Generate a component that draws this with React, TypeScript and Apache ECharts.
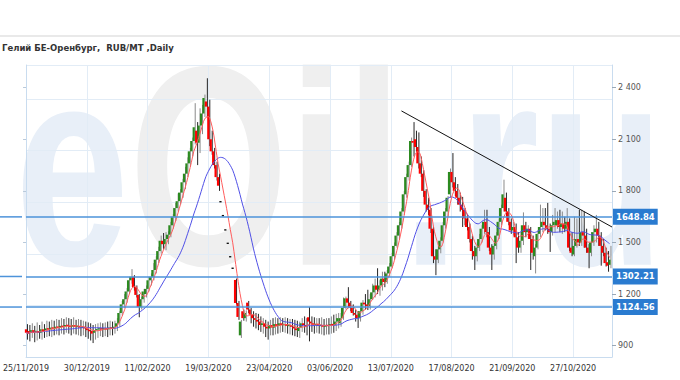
import React, { useEffect, useRef } from 'react';
import * as echarts from 'echarts';

const TITLE = 'Гелий БЕ-Оренбург,  RUB/MT ,Daily';
const TICK_LABELS = ['25/11/2019', '30/12/2019', '11/02/2020', '19/03/2020', '23/04/2020', '03/06/2020', '13/07/2020', '17/08/2020', '21/09/2020', '27/10/2020'];
const Y_TICKS = [900, 1200, 1500, 1800, 2100, 2400];
const LEVELS = [1648.84, 1302.21, 1124.56];
const TREND = [[154.4, 2265], [241, 1590]];

// [open, close, low, high] per trading day
const OHLC = [
  [995,975,935,1025],[985,970,925,1020],[975,990,945,1030],[990,975,920,1015],[980,985,930,1035],
  [985,975,940,1020],[975,995,935,1040],[995,985,945,1025],[990,1000,950,1045],[1000,995,955,1040],
  [995,1005,950,1050],[1005,1000,960,1045],[1000,1010,965,1055],[1010,1005,960,1050],[1005,1015,970,1060],
  [1015,1010,965,1055],[1010,1020,975,1065],[1020,1015,970,1060],[1015,1010,960,1055],[1010,1020,970,1065],
  [1020,1010,965,1050],[1010,1015,960,1055],[1015,1005,955,1050],[1005,1010,960,1045],[1010,1000,950,1040],
  [1000,990,940,1035],[990,985,930,1030],[985,970,915,1020],[975,990,935,1025],[990,995,945,1030],
  [995,1000,955,1035],[1000,995,950,1030],[995,1000,955,1035],[1000,995,950,1040],[995,1005,960,1045],
  [1005,1000,960,1040],[1000,1010,970,1045],[1010,1030,985,1060],
  [1030,1090,1010,1100],[1090,1140,1075,1160],[1140,1170,1120,1200],[1170,1215,1150,1235],[1215,1280,1200,1300],
  [1280,1300,1260,1345],[1300,1240,1220,1310],[1240,1195,1180,1250],[1195,1125,1065,1200],[1125,1170,1110,1185],
  [1170,1215,1150,1230],[1200,1230,1180,1250],
  [1230,1280,1215,1300],[1280,1300,1250,1320],[1300,1340,1280,1380],[1340,1400,1320,1420],[1400,1450,1380,1475],
  [1450,1510,1435,1540],[1510,1490,1460,1555],[1490,1520,1455,1560],[1520,1545,1490,1565],[1545,1600,1530,1620],
  [1600,1650,1580,1665],[1650,1700,1625,1730],[1700,1740,1680,1785],[1740,1790,1720,1810],[1790,1850,1760,1870],
  [1850,1900,1810,1940],[1900,1960,1880,1995],[1960,2030,1940,2050],[2030,2090,2000,2110],[2090,2170,2070,2310],
  [2150,2080,1950,2200],[2080,2180,2020,2280],[2180,2250,2130,2300],[2250,2340,2230,2360],[2320,2290,2230,2455],
  [2290,2100,2060,2330],[2100,2030,2010,2150],[2030,1950,1930,2050],[1950,1880,1860,1970],[1880,1830,1800,1900],
  [1737,1737,1737,1737],[1656,1656,1656,1656],[1573,1573,1573,1573],[1495,1495,1495,1495],[1417,1417,1417,1417],
  [1350,1350,1350,1350],[1282,1148,1140,1290],[1148,1067,1050,1160],[960,1040,945,1050],[1100,1060,1045,1110],
  [1060,1090,1040,1105],[1150,1110,1090,1160],[1110,1080,1030,1120],[1080,1060,1010,1100],[1060,1050,1000,1090],
  [1050,1040,990,1085],[1040,1020,980,1070],[1020,1030,970,1060],[1030,1010,950,1050],[1010,1000,935,1040],
  [1000,1020,960,1050],[1020,1005,960,1060],[1005,1025,965,1065],[1025,1015,970,1060],[1015,1030,975,1065],
  [1030,1020,980,1060],[1020,1025,975,1065],[1025,1015,970,1060],[1015,1020,965,1055],[1020,1010,960,1055],
  [1010,1000,955,1050],[1000,990,950,1045],[985,1005,945,1040],[1005,1030,980,1060],[1030,1020,975,1070],
  [1020,1010,960,1060],[1065,1040,925,1125],[1040,1030,980,1070],[1030,1020,970,1065],[1020,1025,975,1060],
  [1025,1015,970,1060],[1015,1020,965,1065],[1020,1010,960,1055],[1010,1020,965,1060],[1020,1015,965,1060],
  [1015,1025,970,1070],[1025,1020,975,1080],[1020,1040,985,1085],[1040,1060,1000,1090],[1030,1060,1010,1090],
  [1060,1120,1050,1180],[1120,1175,1110,1185],[1175,1150,1118,1240],[1150,1120,1100,1160],[1120,1090,1075,1140],
  [1090,1080,1040,1110],[1080,1060,1003,1100],[1060,1100,1040,1120],[1100,1150,1080,1165],[1150,1140,1110,1200],
  [1140,1130,1107,1225],[1130,1170,1110,1200],[1170,1210,1165,1260],[1210,1250,1180,1290],[1250,1225,1200,1350],
  [1225,1250,1190,1280],[1250,1290,1220,1330],[1290,1270,1240,1330],[1270,1320,1260,1340],[1320,1360,1300,1380],
  [1360,1420,1350,1440],[1420,1480,1400,1500],[1480,1540,1470,1560],[1540,1600,1520,1620],[1600,1680,1580,1700],
  [1680,1780,1660,1800],[1780,1880,1760,1900],[1880,1950,1860,1970],[1950,2090,1940,2110],[2090,2080,2000,2200],
  [2100,2055,2030,2150],[2055,1960,1930,2140],[1960,1900,1880,2000],[1900,1800,1765,1920],[1800,1720,1680,1810],
  [1720,1690,1660,1760],[1690,1580,1555,1700],[1580,1420,1380,1590],[1420,1400,1310,1460],[1400,1460,1380,1480],
  [1460,1510,1437,1530],[1510,1600,1500,1620],[1600,1680,1580,1700],[1680,1760,1650,1770],[1780,1910,1760,1930],
  [1910,1850,1820,2020],[1850,1800,1770,1880],[1800,1760,1720,1840],[1760,1720,1680,1790],[1720,1690,1590,1765],
  [1690,1640,1600,1700],[1640,1590,1570,1660],[1590,1520,1500,1610],[1520,1450,1400,1540],[1450,1420,1340,1480],
  [1420,1470,1390,1500],[1470,1520,1450,1550],[1520,1580,1500,1600],[1580,1620,1550,1690],[1620,1560,1530,1690],
  [1560,1470,1450,1590],[1470,1430,1340,1490],[1430,1480,1400,1500],[1480,1540,1460,1560],[1540,1620,1520,1640],
  [1620,1700,1600,1720],[1700,1780,1680,1865],[1760,1680,1650,1790],[1680,1620,1600,1700],[1620,1570,1550,1640],
  [1570,1590,1540,1620],[1590,1530,1380,1610],[1530,1470,1440,1560],[1470,1510,1440,1560],[1510,1600,1485,1675],
  [1600,1560,1530,1620],[1560,1580,1520,1600],[1580,1520,1340,1590],[1520,1440,1400,1540],[1420,1470,1320,1490],
  [1470,1550,1460,1570],[1550,1590,1530,1720],[1590,1620,1560,1700],[1620,1600,1570,1700],[1600,1580,1550,1730],
  [1580,1560,1445,1610],[1560,1600,1540,1660],[1600,1620,1560,1700],[1600,1630,1580,1680],[1630,1590,1560,1690],
  [1590,1610,1550,1680],[1610,1580,1560,1650],[1580,1620,1560,1700],[1620,1470,1450,1640],[1470,1440,1420,1560],
  [1430,1480,1420,1650],[1480,1520,1470,1640],[1520,1500,1480,1690],[1500,1560,1480,1690],[1560,1540,1470,1680],
  [1540,1470,1440,1580],[1470,1440,1350,1490],[1440,1500,1420,1560],[1500,1560,1480,1600],[1560,1580,1500,1660],
  [1580,1540,1480,1620],[1540,1480,1365,1560],[1480,1440,1420,1520],[1440,1380,1360,1470],[1385,1365,1330,1450],
  [1370,1400,1350,1480],
];

const CLOSES = OHLC.map((r) => r[1]);

function movingAverage(period: number) {
  return CLOSES.map((_, i) => {
    const from = Math.max(0, i - period + 1);
    let s = 0;
    for (let k = from; k <= i; k++) s += CLOSES[k];
    return [i, Math.round((s / (i - from + 1)) * 10) / 10];
  });
}

const Y_MIN = 834;
const Y_MAX = 2532;
const X_MAX = 241;
const FONT = '"DejaVu Sans", Verdana, sans-serif';

function fmtY(v: number) {
  return String(v).replace(/\B(?=(\d{3})+(?!\d))/g, ' ');
}

export default function App() {
  const ref = useRef<HTMLDivElement>(null);
  useEffect(() => {
    if (!ref.current) return;
    const chart = echarts.init(ref.current, null, { renderer: 'svg' });
    const candleData = OHLC.map((r, i) => [i, r[0], r[1], r[2], r[3]]);
    const wmFont = 'bold 205px "Liberation Sans", Arial, sans-serif';
    const option: any = {
      animation: false,
      backgroundColor: '#ffffff',
      title: {
        text: TITLE,
        left: 2,
        top: 43,
        padding: 0,
        textStyle: { fontSize: 8.5, fontWeight: 'bold', color: '#333', fontFamily: FONT },
      },
      grid: { left: 22, right: 68, top: 65, bottom: 23, containLabel: false },
      xAxis: {
        type: 'value',
        min: 0,
        max: X_MAX,
        interval: 25,
        axisLine: { show: true, lineStyle: { color: '#c9dcef', width: 1 } },
        axisTick: { show: false },
        splitLine: { show: true, lineStyle: { color: '#e2ecf6', width: 1 } },
        axisLabel: {
          fontSize: 8,
          fontFamily: FONT,
          color: '#333',
          margin: 7,
          formatter: (v: number) => (v % 25 === 0 && TICK_LABELS[v / 25]) ? TICK_LABELS[v / 25] : '',
        },
      },
      yAxis: [
        {
          type: 'value', position: 'left', min: Y_MIN, max: Y_MAX, interval: 300,
          axisLine: { show: false }, axisTick: { show: false }, axisLabel: { show: false },
          splitLine: { show: true, lineStyle: { color: '#e2ecf6', width: 1 } },
        },
        {
          type: 'value', position: 'left', min: Y_MIN, max: Y_MAX, splitNumber: 5,
          axisLine: { show: true, lineStyle: { color: '#c9dcef' } },
          axisTick: { show: true, length: 3, customValues: Y_TICKS, lineStyle: { color: '#b9c9da' } },
          axisLabel: { show: false },
          splitLine: { show: false },
        },
        {
          type: 'value', position: 'right', min: Y_MIN, max: Y_MAX, splitNumber: 5,
          axisLine: { show: true, lineStyle: { color: '#c9dcef' } },
          axisTick: { show: true, length: 4, customValues: Y_TICKS, lineStyle: { color: '#9aa8b6' } },
          axisLabel: {
            customValues: Y_TICKS,
            fontSize: 8, fontFamily: FONT, color: '#555', margin: 6,
            formatter: (v: number) => (Y_TICKS.indexOf(v) >= 0 ? fmtY(v) : ''),
          },
          splitLine: { show: false },
        },
      ],
      graphic: [
        {
          id: 'wm', type: 'text', x: 15, y: 166, scaleY: 1.39, z: -20, silent: true,
          style: {
            text: '{a|e}{b|Oil}{a|.ru}',
            verticalAlign: 'middle',
            rich: {
              a: { fill: '#e8eff8', font: wmFont, lineHeight: 205 },
              b: { fill: '#efefef', font: wmFont, lineHeight: 205 },
            },
          },
        },
        { id: 'cover', type: 'rect', z: -10, silent: true, shape: { x: 0, y: 0, width: 680, height: 64.5 }, style: { fill: '#ffffff' } },
        { id: 'topline', type: 'rect', z: 5, silent: true, shape: { x: 0, y: 35.5, width: 680, height: 1 }, style: { fill: '#d4d4d4' } },
      ],
      series: [
        {
          type: 'custom',
          xAxisIndex: 0,
          yAxisIndex: 0,
          z: 3,
          encode: { x: 0, y: [1, 2, 3, 4] },
          data: candleData,
          renderItem: (_p: any, api: any) => {
            const i = api.value(0);
            const o = api.value(1), c = api.value(2), l = api.value(3), h = api.value(4);
            const po = api.coord([i, o]);
            const pc = api.coord([i, c]);
            const pl = api.coord([i, l]);
            const ph = api.coord([i, h]);
            const x = po[0];
            const up = c > o;
            const doji = c === o;
            let top = Math.min(po[1], pc[1]);
            let bh = Math.abs(po[1] - pc[1]);
            if (bh < 1.4) { top = top - (1.4 - bh) / 2; bh = 1.4; }
            const children: any[] = [];
            if (h !== l) {
              children.push({
                type: 'line',
                shape: { x1: x + 1.4, y1: ph[1], x2: x + 1.4, y2: pl[1] },
                style: { stroke: up ? '#8a8a8a' : '#262626', lineWidth: 1 },
              });
            }
            children.push({
              type: 'rect',
              shape: { x: x - 1.2, y: top, width: 2.2, height: bh },
              style: { fill: doji ? '#111111' : up ? '#2b8a1f' : '#ff0000' },
            });
            return { type: 'group', children };
          },
        },
        {
          type: 'line', name: 'MA20', data: movingAverage(20), showSymbol: false, smooth: 0.3, z: 4,
          lineStyle: { color: '#5050e6', width: 1 }, silent: true,
        },
        {
          type: 'line', name: 'MA5', data: movingAverage(5), showSymbol: false, smooth: 0.3, z: 4,
          lineStyle: { color: '#ff5c5c', width: 1 }, silent: true,
        },
        {
          type: 'line', name: 'trend', data: TREND, showSymbol: false, z: 5,
          lineStyle: { color: '#111111', width: 1 }, silent: true,
          markLine: {
            silent: true,
            symbol: ['none', 'none'],
            lineStyle: { color: '#4d93da', width: 1.5, type: 'solid' },
            label: {
              position: 'end',
              distance: 1,
              formatter: (p: any) => Number(p.value).toFixed(2),
              backgroundColor: '#2a7bd0',
              color: '#ffffff',
              fontWeight: 'bold',
              fontSize: 8.5,
              fontFamily: FONT,
              padding: [4, 3, 3, 3],
            },
            emphasis: { disabled: true },
            data: LEVELS.map((v) => ({ yAxis: v })),
          },
        },
      ],
    };
    chart.setOption(option);
    const stubs = LEVELS.map((v, k) => {
      const y = chart.convertToPixel({ yAxisIndex: 0 }, v) as number;
      return {
        id: 'stub' + k, type: 'line', z: 5, silent: true,
        shape: { x1: 0, y1: y, x2: 22, y2: y },
        style: { stroke: '#4d93da', lineWidth: 1.5 },
      };
    });
    chart.setOption({ graphic: stubs });
    return () => chart.dispose();
  }, []);
  return <div ref={ref} style={{ position: 'fixed', left: 0, top: 0, width: 680, height: 380 }} />;
}
